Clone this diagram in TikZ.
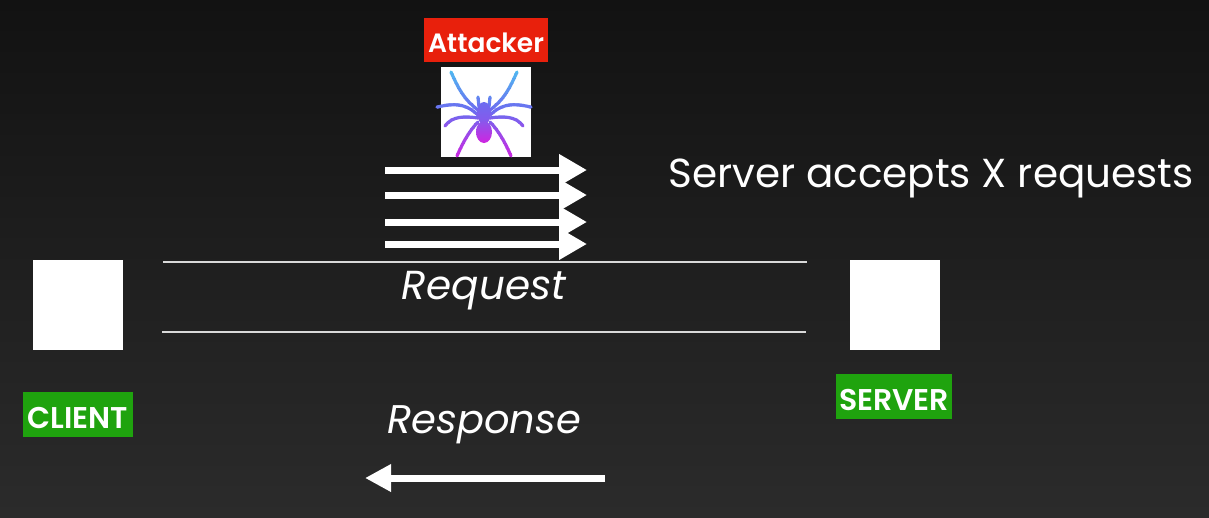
\documentclass[tikz,border=0pt]{standalone}
\usepackage{fontspec}
\setmainfont{Poppins}[BoldFont={Poppins SemiBold}]
\usetikzlibrary{arrows.meta}

\definecolor{bgtop}{HTML}{121212}
\definecolor{bgbottom}{HTML}{2B2B2B}
\definecolor{tagred}{HTML}{E8200C}
\definecolor{taggreen}{HTML}{1FA30E}
\definecolor{spidertop}{HTML}{4FB9F0}
\definecolor{spidermid}{HTML}{6C6CF0}
\definecolor{spiderbot}{HTML}{D024E0}

\newcommand{\spiderlegs}{%
    \draw (478,110) .. controls (465,100) and (460,92) .. (451,72);
    \draw (490,110) .. controls (503,100) and (508,92) .. (517,72);
    \draw (478,115) .. controls (468,106) and (460,102) .. (437,107);
    \draw (490,115) .. controls (500,106) and (508,102) .. (531,107);
    \draw (478,118) .. controls (465,116) and (452,116) .. (445,126);
    \draw (490,118) .. controls (503,116) and (516,116) .. (523,126);
    \draw (478,122) .. controls (470,130) and (463,142) .. (457,156);
    \draw (490,122) .. controls (498,130) and (505,142) .. (511,156);
    \draw (479,107) -- (478,97);
    \draw (489,107) -- (490,97);
}
\newcommand{\tagtext}[1]{\raisebox{-3pt}[\height][\depth]{#1}}

\begin{document}
\begin{tikzpicture}[
    x=1pt, y=-1pt,
    >=Triangle,
    floodarrow/.style={-{Triangle[length=28pt,width=30pt]}, line width=7pt, white},
    replyarrow/.style={-{Triangle[length=26pt,width=26pt]}, line width=7pt, white},
    wire/.style={line width=1.5pt, white!85!black},
    hostbox/.style={fill=white, minimum width=90pt, minimum height=90pt, inner sep=0pt},
    tag/.style={text=white, inner sep=0pt, minimum height=45pt, font=\fontsize{30}{34}\selectfont\bfseries},
    caption/.style={text=white, inner sep=0pt, font=\fontsize{40.5}{46}\selectfont}
]

%-------------------------------------------------
% Background
%-------------------------------------------------
\useasboundingbox (0,0) rectangle (1209,517);
\shade[top color=bgtop, bottom color=bgbottom] (0,0) rectangle (1209,517);

%-------------------------------------------------
% Hosts
%-------------------------------------------------
\node[hostbox] (client) at (78,305) {};
\node[hostbox] (server) at (895,305) {};
\node[hostbox] (spider) at (486,112) {};

\node[tag, fill=taggreen, minimum width=110pt] (clienttag) at (78,414.5) {\tagtext{CLIENT}};
\node[tag, fill=taggreen, minimum width=116pt] (servertag) at (894,396.5) {\tagtext{SERVER}};
\node[tag, fill=tagred, minimum width=124pt, minimum height=44pt, font=\fontsize{26.5}{30}\selectfont\bfseries] (attackertag) at (486,40) {\tagtext{Attacker}};

%-------------------------------------------------
% Spider
%-------------------------------------------------
\foreach \s in {0,...,18} {
    \pgfmathsetmacro{\stripY}{68+\s*5}
    \pgfmathsetmacro{\mixA}{\s<8 ? 100-\s*12.5 : 100-(\s-8)*10}
    \ifnum\s<8
        \colorlet{stripcolor}{spidertop!\mixA!spidermid}
    \else
        \colorlet{stripcolor}{spidermid!\mixA!spiderbot}
    \fi
    \begin{scope}[line width=3.2pt, color=stripcolor, line cap=round]
        \clip (430,\stripY) rectangle (540,\stripY+5);
        \spiderlegs
    \end{scope}
}
\shade[top color=spidermid, bottom color=spidermid!70!spiderbot] (484,113) ellipse (7 and 11);
\shade[top color=spidermid!70!spiderbot, bottom color=spiderbot] (484,132) ellipse (8 and 11);

%-------------------------------------------------
% Attack requests
%-------------------------------------------------
\foreach \n/\y in {a/170,b/195,c/222,d/244} {
    \coordinate (flood\n start) at (385,\y);
    \coordinate (flood\n end) at (587,\y);
    \draw[floodarrow] (flood\n start) -- (flood\n end);
}

%-------------------------------------------------
% Connection lines
%-------------------------------------------------
\coordinate (wireAleft) at (163,262);
\coordinate (wireAright) at (807,262);
\coordinate (wireBleft) at (162,332);
\coordinate (wireBright) at (806,332);
\draw[wire] (wireAleft) -- (wireAright);
\draw[wire] (wireBleft) -- (wireBright);

\coordinate (replystart) at (605,478);
\coordinate (replyend) at (365,478);
\draw[replyarrow] (replystart) -- (replyend);

%-------------------------------------------------
% Labels
%-------------------------------------------------
\node[caption] (accepts) at (931,178) {Server accepts X requests};
\node[caption, font=\fontsize{40.5}{46}\selectfont\itshape] (request) at (484,291) {Request};
\node[caption, font=\fontsize{40}{46}\selectfont\itshape] (response) at (484,425) {Response};

\end{tikzpicture}
\end{document}
